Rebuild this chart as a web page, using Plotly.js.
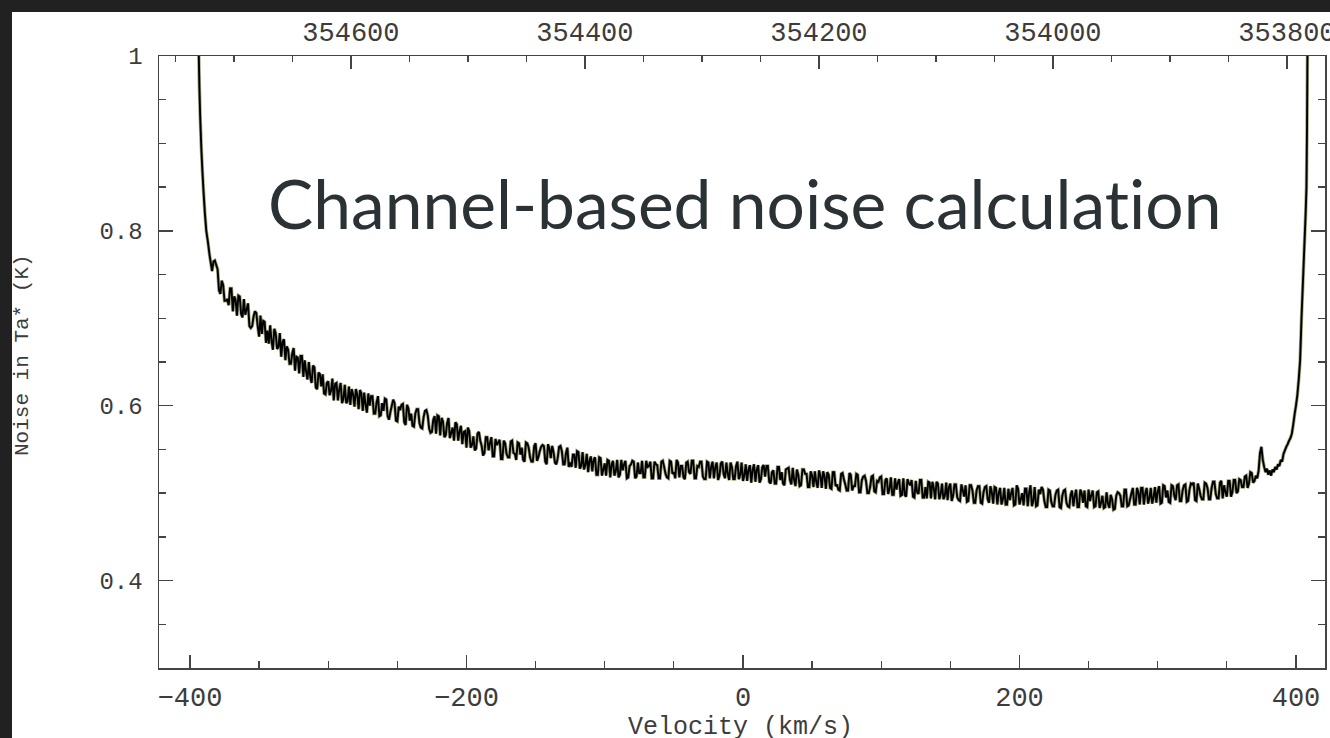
<!DOCTYPE html>
<html>
<head>
<meta charset="utf-8">
<script src="https://cdn.plot.ly/plotly-3.0.1.min.js"></script>
<style>
  html, body { margin: 0; padding: 0; background: #212121; width: 1330px; height: 738px; overflow: hidden; }
  #frame { position: absolute; left: 12px; top: 12px; width: 1318px; height: 726px; background: #fff;
           box-shadow: inset 3px 3px 0 #dedede; }
  #chart { position: absolute; left: 0; top: 0; width: 1318px; height: 726px; }
  .annotation-text { font-variant-ligatures: none; font-feature-settings: "liga" 0, "clig" 0, "dlig" 0; }
</style>
</head>
<body>
<div id="frame"><div id="chart"></div></div>
<script>
// ---- data ----
// steep rise at the low-velocity band edge
const leftEdgeV = [-397, -393.6, -393.2, -392.6, -391.8, -391.0, -390.2, -389.2, -388.2, -387.0, -385.8];
const leftEdgeT = [1.12, 1.000, 0.965, 0.930, 0.895, 0.868, 0.845, 0.820, 0.800, 0.787, 0.772];

// channels at -384, -382, ... km/s (noise in Ta*, K)
const evenStartV = -384;
const chanStepV = 2;
const evenT = [
  0.754,0.766,0.756,0.728,0.738,0.720,0.715,0.734,0.725,0.703,
  0.725,0.701,0.704,0.717,0.689,0.702,0.706,0.679,0.682,0.696,
  0.686,0.692,0.664,0.683,0.667,0.656,0.676,0.668,0.648,0.660,
  0.640,0.655,0.657,0.633,0.639,0.650,0.626,0.644,0.619,0.636,
  0.636,0.613,0.628,0.617,0.606,0.626,0.619,0.603,0.624,0.605,
  0.601,0.613,0.619,0.596,0.614,0.615,0.592,0.600,0.611,0.591,
  0.611,0.589,0.594,0.607,0.584,0.600,0.603,0.582,0.595,0.602,
  0.578,0.597,0.591,0.576,0.596,0.580,0.574,0.594,0.589,0.569,
  0.584,0.568,0.588,0.586,0.564,0.580,0.563,0.575,0.581,0.560,
  0.577,0.570,0.552,0.571,0.555,0.549,0.568,0.560,0.543,0.564,
  0.549,0.564,0.542,0.555,0.561,0.539,0.557,0.541,0.559,0.546,
  0.538,0.557,0.552,0.536,0.557,0.541,0.536,0.557,0.541,0.553,
  0.554,0.533,0.551,0.554,0.535,0.540,0.554,0.533,0.546,0.530,
  0.530,0.544,0.548,0.528,0.547,0.532,0.524,0.542,0.538,0.521,
  0.541,0.520,0.534,0.538,0.518,0.537,0.525,0.518,0.538,0.533,
  0.517,0.531,0.537,0.517,0.535,0.523,0.518,0.537,0.531,0.517,
  0.536,0.532,0.517,0.537,0.522,0.517,0.536,0.524,0.538,0.518,
  0.531,0.516,0.536,0.522,0.537,0.517,0.530,0.536,0.516,0.536,
  0.517,0.536,0.530,0.515,0.534,0.522,0.535,0.515,0.530,0.516,
  0.536,0.521,0.514,0.533,0.527,0.512,0.533,0.527,0.512,0.530,
  0.519,0.531,0.511,0.526,0.511,0.530,0.524,0.509,0.528,0.515,
  0.529,0.508,0.521,0.509,0.527,0.522,0.507,0.520,0.525,0.506,
  0.520,0.525,0.505,0.521,0.505,0.524,0.510,0.503,0.523,0.510,
  0.503,0.521,0.508,0.522,0.501,0.515,0.520,0.500,0.507,0.520,
  0.501,0.513,0.519,0.499,0.517,0.505,0.498,0.517,0.512,0.497,
  0.517,0.496,0.511,0.515,0.495,0.501,0.515,0.495,0.507,0.513,
  0.494,0.506,0.513,0.493,0.511,0.497,0.492,0.511,0.497,0.510,
  0.492,0.510,0.496,0.490,0.509,0.503,0.489,0.508,0.489,0.501,
  0.508,0.489,0.501,0.507,0.487,0.506,0.493,0.487,0.505,0.500,
  0.486,0.509,0.487,0.500,0.505,0.485,0.509,0.491,0.485,0.504,
  0.507,0.491,0.484,0.503,0.485,0.498,0.504,0.483,0.503,0.489,
  0.484,0.503,0.497,0.484,0.504,0.489,0.485,0.504,0.498,0.484,
  0.501,0.483,0.497,0.484,0.488,0.498,0.481,0.497,0.500,0.485,
  0.504,0.485,0.493,0.506,0.487,0.501,0.506,0.487,0.506,0.494,
  0.488,0.507,0.502,0.488,0.509,0.495,0.490,0.509,0.497,0.509,
  0.491,0.503,0.510,0.491,0.511,0.512,0.491,0.505,0.493,0.512,
  0.506,0.493,0.513,0.499,0.494,0.514,0.509,0.496,0.514,0.501,
  0.515,0.502,0.515,0.507,0.520,0.511,0.523
];

// channels at -383, -381, ... km/s (noise in Ta*, K)
const oddStartV = -383;
const oddT = [
  0.765,0.761,0.732,0.743,0.720,0.722,0.734,0.708,0.721,0.726,
  0.705,0.722,0.710,0.691,0.691,0.708,0.691,0.703,0.697,0.672,
  0.671,0.674,0.688,0.665,0.683,0.673,0.652,0.664,0.648,0.666,
  0.656,0.637,0.657,0.652,0.630,0.633,0.646,0.621,0.638,0.622,
  0.614,0.626,0.612,0.631,0.625,0.606,0.626,0.608,0.603,0.622,
  0.619,0.599,0.613,0.618,0.594,0.601,0.614,0.611,0.591,0.604,
  0.588,0.603,0.608,0.588,0.593,0.607,0.583,0.599,0.601,0.581,
  0.601,0.583,0.577,0.591,0.596,0.575,0.587,0.595,0.574,0.570,
  0.588,0.589,0.566,0.582,0.566,0.586,0.569,0.560,0.579,0.571,
  0.556,0.571,0.575,0.552,0.565,0.551,0.570,0.554,0.546,0.564,
  0.557,0.542,0.562,0.558,0.539,0.560,0.545,0.541,0.560,0.545,
  0.558,0.544,0.538,0.558,0.552,0.536,0.554,0.537,0.548,0.555,
  0.536,0.556,0.540,0.547,0.533,0.553,0.548,0.533,0.552,0.535,
  0.544,0.529,0.547,0.531,0.527,0.545,0.537,0.525,0.541,0.521,
  0.540,0.527,0.520,0.537,0.533,0.520,0.538,0.521,0.526,0.537,
  0.518,0.533,0.536,0.519,0.523,0.537,0.518,0.530,0.536,0.517,
  0.533,0.517,0.536,0.530,0.518,0.537,0.522,0.517,0.535,0.531,
  0.518,0.535,0.524,0.537,0.517,0.531,0.536,0.519,0.516,0.535,
  0.530,0.517,0.535,0.520,0.536,0.517,0.522,0.535,0.516,0.531,
  0.516,0.535,0.520,0.514,0.532,0.527,0.513,0.532,0.516,0.532,
  0.531,0.513,0.524,0.511,0.530,0.515,0.511,0.527,0.529,0.510,
  0.515,0.527,0.508,0.527,0.522,0.507,0.525,0.507,0.513,0.526,
  0.506,0.519,0.524,0.506,0.524,0.508,0.504,0.522,0.516,0.503,
  0.523,0.503,0.508,0.521,0.501,0.519,0.514,0.500,0.519,0.502,
  0.514,0.518,0.499,0.515,0.499,0.518,0.498,0.504,0.516,0.498,
  0.498,0.516,0.509,0.496,0.514,0.499,0.515,0.495,0.494,0.512,
  0.513,0.493,0.511,0.499,0.493,0.512,0.507,0.491,0.510,0.495,
  0.491,0.503,0.509,0.491,0.509,0.489,0.503,0.508,0.488,0.507,
  0.493,0.508,0.488,0.506,0.500,0.487,0.506,0.487,0.492,0.506,
  0.487,0.505,0.493,0.486,0.505,0.501,0.485,0.507,0.486,0.499,
  0.504,0.484,0.504,0.490,0.485,0.503,0.484,0.497,0.504,0.485,
  0.498,0.485,0.504,0.484,0.500,0.503,0.484,0.491,0.503,0.485,
  0.502,0.489,0.483,0.501,0.483,0.493,0.482,0.501,0.497,0.485,
  0.504,0.486,0.500,0.487,0.506,0.487,0.506,0.500,0.488,0.506,
  0.495,0.489,0.508,0.489,0.508,0.503,0.489,0.508,0.492,0.510,
  0.491,0.509,0.490,0.504,0.510,0.492,0.511,0.497,0.493,0.511,
  0.493,0.506,0.513,0.494,0.512,0.494,0.501,0.514,0.496,0.515,
  0.500,0.516,0.507,0.519,0.506,0.524,0.512
];

// rise at the high-velocity band edge
const rightEdgeV = [370,371,372,373,374,375,376,377,378,379,380,381,382,383,384,385,386,387,388,389,390,
                    391,392,393,394,395,396,397,398,399,400,401,402,403,404,405,406,407,407.6,408,408.3,409];
const rightEdgeT = [0.514,0.520,0.517,0.526,0.546,0.553,0.538,0.530,0.524,0.528,0.521,0.526,0.520,0.527,0.524,0.530,0.527,0.533,0.531,0.538,0.536,
                    0.545,0.549,0.553,0.556,0.560,0.563,0.568,0.578,0.590,0.600,0.612,0.630,0.652,0.700,0.740,0.780,0.820,0.850,0.920,1.000,1.120];

const velTicks = [-400, -200, 0, 200, 400];
const freqTicks = [354600, 354400, 354200, 354000, 353800];
const noiseTicks = [0.4, 0.6, 0.8, 1];

const chartTitle = 'Channel-based noise calculation';
const xTitle = 'Velocity (km/s)';
const yTitle = 'Noise in Ta* (K)';

// ---- assemble the spectrum (interleave the two channel sets) ----
const midV = [], midT = [];
for (let i = 0; i < Math.max(evenT.length, oddT.length); i++) {
  if (i < evenT.length) { midV.push(evenStartV + i * chanStepV); midT.push(evenT[i]); }
  if (i < oddT.length)  { midV.push(oddStartV + i * chanStepV);  midT.push(oddT[i]); }
}
const vel = leftEdgeV.concat(midV, rightEdgeV);
const noise = leftEdgeT.concat(midT, rightEdgeT);

const monoFamily = 'Liberation Mono, DejaVu Sans Mono, monospace';
const xTickFont = { family: monoFamily, size: 27, color: '#3c3c3c' };
const yTickFont = { family: monoFamily, size: 24, color: '#3c3c3c' };
const axisLine = '#444';

const traces = [
  { x: vel, y: noise, type: 'scatter', mode: 'lines', xaxis: 'x', yaxis: 'y',
    line: { color: 'rgba(135,135,80,0.75)', width: 3.4, simplify: false }, hoverinfo: 'skip', showlegend: false },
  { x: vel, y: noise, type: 'scatter', mode: 'lines', xaxis: 'x', yaxis: 'y',
    line: { color: '#000', width: 1.9, simplify: false }, showlegend: false },
  // carrier for the top (frequency) axis, draws nothing
  { x: freqTicks, y: freqTicks.map(() => null), type: 'scatter', mode: 'lines', xaxis: 'x2', yaxis: 'y',
    hoverinfo: 'skip', showlegend: false }
];

const layout = {
  width: 1318, height: 726,
  margin: { l: 147, r: 5, t: 44, b: 70 },
  paper_bgcolor: '#fff', plot_bgcolor: '#fff',
  showlegend: false,
  xaxis: {
    range: [-422.4, 421], showgrid: false, zeroline: false,
    showline: true, linecolor: axisLine, linewidth: 1.5,
    tickmode: 'array', tickvals: velTicks,
    ticks: 'inside', ticklen: 13, tickwidth: 1.3, tickcolor: axisLine,
    minor: { dtick: 50, tick0: -400, ticks: 'inside', ticklen: 7, tickwidth: 1.3, tickcolor: axisLine },
    tickfont: xTickFont, ticklabelstandoff: 4
  },
  xaxis2: {
    overlaying: 'x', side: 'top', anchor: 'y',
    range: [354764, 353767.5], showgrid: false, zeroline: false,
    showline: true, linecolor: axisLine, linewidth: 1.5,
    tickmode: 'array', tickvals: freqTicks, tickformat: 'd',
    ticks: 'inside', ticklen: 13, tickwidth: 1.3, tickcolor: axisLine,
    minor: { dtick: 50, tick0: 353800, ticks: 'inside', ticklen: 6, tickwidth: 1.3, tickcolor: axisLine },
    tickfont: xTickFont, ticklabelstandoff: 3, ticklabeloverflow: 'allow'
  },
  yaxis: {
    range: [0.3, 1.0], showgrid: false, zeroline: false,
    showline: true, mirror: 'ticks', linecolor: axisLine, linewidth: 1.5,
    tickmode: 'array', tickvals: noiseTicks,
    ticks: 'inside', ticklen: 14, tickwidth: 1.3, tickcolor: axisLine,
    minor: { dtick: 0.05, tick0: 0.3, ticks: 'inside', ticklen: 7, tickwidth: 1.3, tickcolor: axisLine },
    tickfont: yTickFont, ticklabelstandoff: 10
  },
  annotations: [
    { text: chartTitle, xref: 'paper', yref: 'paper', x: 0.0915, y: 0.7606,
      xanchor: 'left', yanchor: 'middle', showarrow: false,
      font: { family: 'Lato, Noto Sans, sans-serif', size: 67.7, color: '#2a3236' } },
    { text: xTitle, xref: 'paper', yref: 'paper', x: 0.499, y: -0.0965,
      xanchor: 'center', yanchor: 'middle', showarrow: false,
      font: { family: monoFamily, size: 25, color: '#3c3c3c' } },
    { text: yTitle, xref: 'paper', yref: 'paper', x: -0.1175, y: 0.5114, textangle: -90,
      xanchor: 'center', yanchor: 'middle', showarrow: false,
      font: { family: monoFamily, size: 21, color: '#3c3c3c' } }
  ]
};

Plotly.newPlot('chart', traces, layout, { displayModeBar: false, staticPlot: true });
</script>
</body>
</html>
